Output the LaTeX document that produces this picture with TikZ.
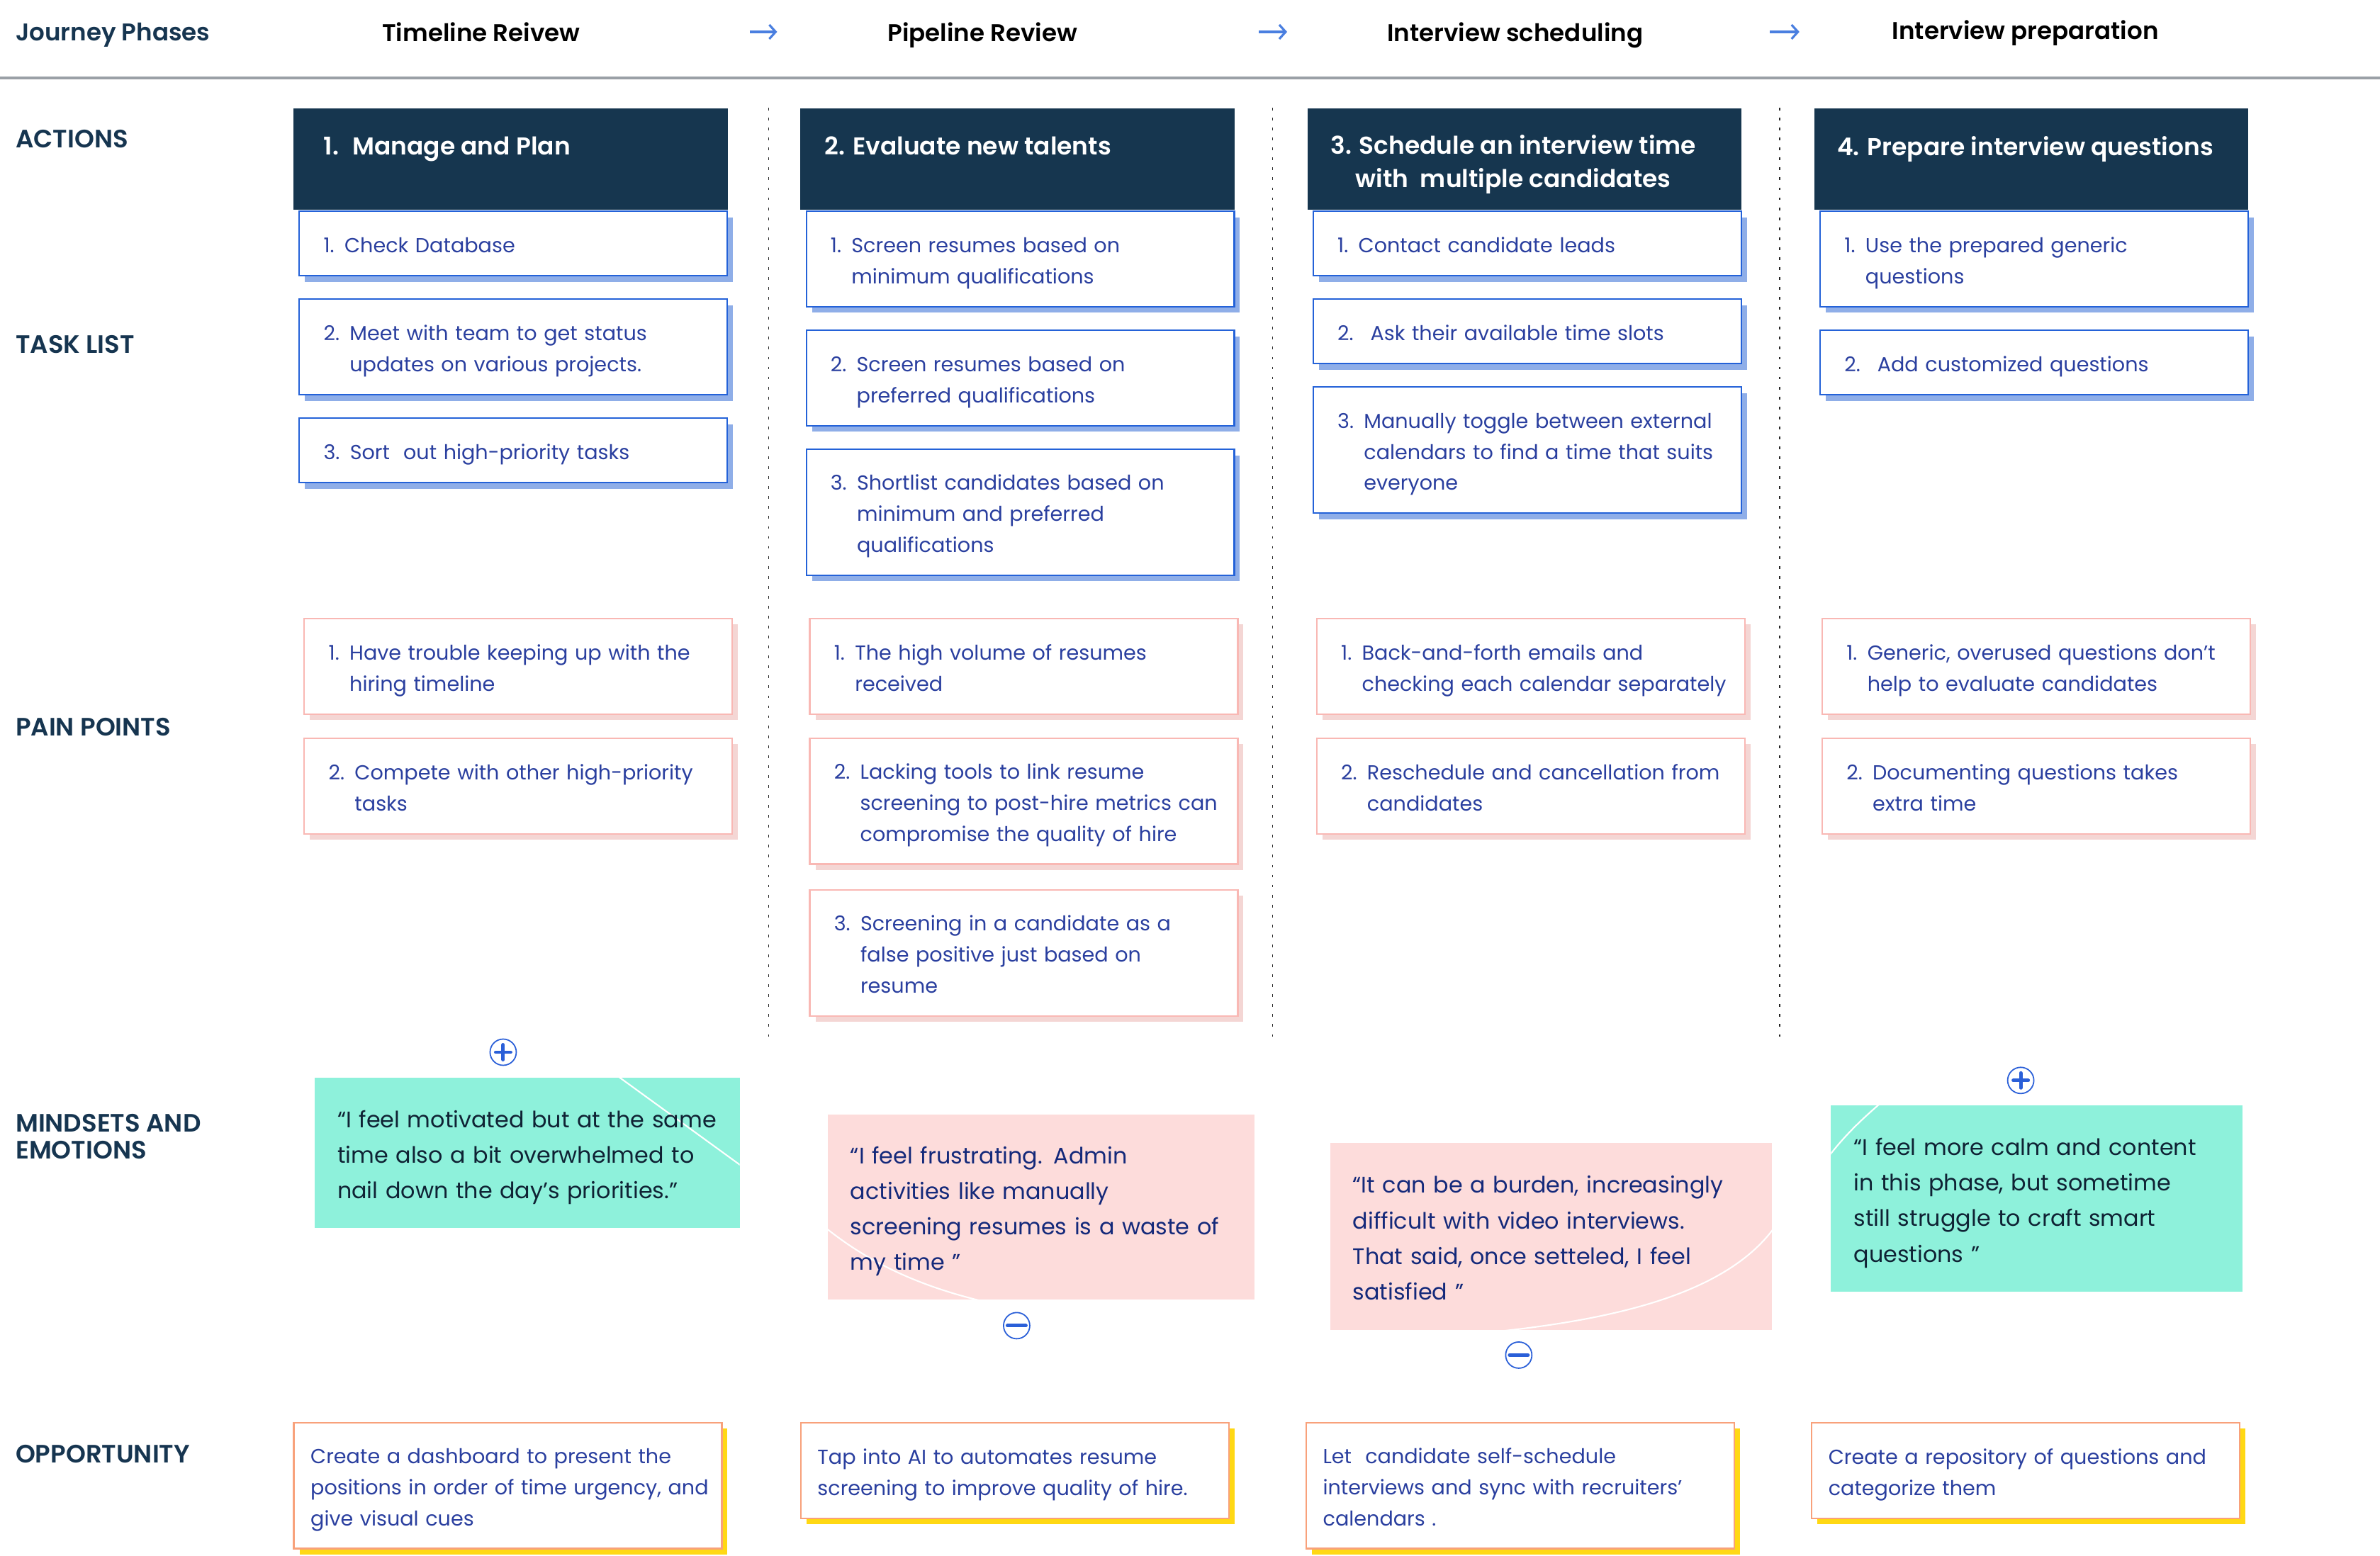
\documentclass[tikz,border=0pt]{standalone}
\usepackage{fontspec}
\setmainfont{Poppins}[BoldFont={Poppins SemiBold}]
\usetikzlibrary{arrows.meta, positioning, shadows, calc}

\definecolor{navy}{HTML}{16364F}
\definecolor{labelnavy}{HTML}{163550}
\definecolor{taskedge}{HTML}{2462D8}
\definecolor{taskshade}{HTML}{8FAEE8}
\definecolor{taskink}{HTML}{2A3F9F}
\definecolor{painedge}{HTML}{F9B8B4}
\definecolor{painshade}{HTML}{F4D6D4}
\definecolor{oppedge}{HTML}{F8A17B}
\definecolor{oppshade}{HTML}{FFD814}
\definecolor{mint}{HTML}{8EF1DB}
\definecolor{blush}{HTML}{FDDCDB}
\definecolor{quoteink}{HTML}{0F2234}
\definecolor{quoteblue}{HTML}{14297A}
\definecolor{rulegray}{HTML}{9AA0A6}
\definecolor{arrowblue}{HTML}{4A7FE0}
\definecolor{toggleblue}{HTML}{2A5FD8}

\newcommand{\cardfont}{\fontsize{8.15}{12.5}\selectfont}
\newcommand{\quotefont}{\fontsize{9.05}{14.3}\selectfont}
% first row a little taller, so the lines sit where the reference has them
\newcommand{\boxlines}[1]{\begin{tabular}{@{}l@{}}\rule{0pt}{11.1pt}#1\end{tabular}}
\newcommand{\quotelines}[1]{\begin{tabular}{@{}l@{}}\rule{0pt}{12.4pt}#1\end{tabular}}

\tikzset{
    phase/.style={
        font=\bfseries\fontsize{9.7}{11}\selectfont,
        text=black, inner sep=0pt, text depth=0pt
    },
    rowlabel/.style={
        font=\bfseries\fontsize{10.1}{10.9}\selectfont,
        text=labelnavy, anchor=west, align=left, inner sep=0pt
    },
    phasearrow/.style={draw=arrowblue, line width=0.9pt, -{Straight Barb[length=0.9mm, width=2mm]}},
    headrule/.style={draw=rulegray, line width=1.15pt},
    lane/.style={draw=black!85, line width=0.55pt, dash pattern=on 1.1pt off 2.9pt},
    headbox/.style={
        rectangle, fill=navy, anchor=north west,
        minimum width=61.25mm, minimum height=14.35mm, inner sep=0pt
    },
    headtext/.style={
        font=\bfseries\fontsize{9.8}{13.3}\selectfont,
        text=white, inner sep=0pt, text depth=0pt
    },
    card/.style={
        rectangle, line width=0.6pt, fill=white,
        font=\cardfont, text=taskink,
        minimum width=60.39mm, inner ysep=0pt, align=left
    },
    taskbox/.style={
        card, draw=taskedge, text width=53.53mm, inner xsep=3.43mm,
        drop shadow={shadow xshift=0.8mm, shadow yshift=-0.85mm, fill=taskshade, opacity=1}
    },
    painbox/.style={
        card, draw=painedge, text width=53.53mm, inner xsep=3.43mm,
        drop shadow={shadow xshift=0.8mm, shadow yshift=-0.85mm, fill=painshade, opacity=1}
    },
    oppbox/.style={
        card, draw=oppedge, line width=0.7pt, text width=55.67mm, inner xsep=2.36mm,
        drop shadow={shadow xshift=0.8mm, shadow yshift=-0.85mm, fill=oppshade, opacity=1}
    },
    oneline/.style={minimum height=9.10mm},
    twoline/.style={minimum height=13.49mm},
    threeline/.style={minimum height=17.78mm},
    mindset/.style={
        rectangle, anchor=north west, inner xsep=3.21mm, inner ysep=0pt,
        align=left, font=\quotefont
    },
    calm/.style={mindset, fill=mint, text=quoteink},
    tense/.style={mindset, fill=blush, text=quoteblue},
    swoosh/.style={draw=white, line width=0.6pt},
    togglecirc/.style={
        circle, draw=toggleblue, line width=0.5pt, fill=white,
        minimum size=3.7mm, inner sep=0pt
    },
    togglemark/.style={draw=toggleblue, line width=1.4pt, line cap=round},
    expandmark/.style={togglecirc, path picture={
        \draw[togglemark] ([xshift=-1.05mm]path picture bounding box.center) -- ([xshift=1.05mm]path picture bounding box.center);
        \draw[togglemark] ([yshift=-1.05mm]path picture bounding box.center) -- ([yshift=1.05mm]path picture bounding box.center);
    }},
    collapsemark/.style={togglecirc, path picture={
        \draw[togglemark] ([xshift=-1.3mm]path picture bounding box.center) -- ([xshift=1.3mm]path picture bounding box.center);
    }}
}

\begin{document}
\begin{tikzpicture}[x=0.21416mm, y=-0.21416mm, node distance=3.1mm]

\useasboundingbox (0,0) rectangle (1568,1025.4);
\fill[white] (0,0) rectangle (1568,1025.4);

% Phase header
\node[phase, anchor=west, text=labelnavy] (jp) at (10,21) {Journey Phases};
\node[phase] (ph1) at (317,21) {Timeline Reivew};
\node[phase] (ph2) at (647.3,21) {Pipeline Review};
\node[phase] (ph3) at (998.2,21) {Interview scheduling};
\node[phase] (ph4) at (1334.4,19.5) {Interview preparation};

\coordinate (ar1a) at (494,21);
\coordinate (ar1b) at (512,21);
\coordinate (ar2a) at (829.5,21);
\coordinate (ar2b) at (848,21);
\coordinate (ar3a) at (1166,21);
\coordinate (ar3b) at (1185.5,21);
\draw[phasearrow] (ar1a) -- (ar1b);
\draw[phasearrow] (ar2a) -- (ar2b);
\draw[phasearrow] (ar3a) -- (ar3b);

\coordinate (rulel) at (0,51.3);
\coordinate (ruler) at (1568,51.3);
\draw[headrule] (rulel) -- (ruler);

% Row labels
\node[rowlabel] (lact) at (10,91.7) {ACTIONS};
\node[rowlabel] (ltask) at (10,227) {TASK LIST};
\node[rowlabel] (lpain) at (10,479) {PAIN POINTS};
\node[rowlabel] (lmind) at (10,749) {MINDSETS AND\\EMOTIONS};
\node[rowlabel] (lopp) at (10,958) {OPPORTUNITY};

% Lanes between phases
\coordinate (lane1a) at (506.4,71);
\coordinate (lane1b) at (506.4,685);
\coordinate (lane2a) at (838.4,71);
\coordinate (lane2b) at (838.4,685);
\coordinate (lane3a) at (1172.7,71);
\coordinate (lane3b) at (1172.7,685);
\draw[lane] (lane1a) -- (lane1b);
\draw[lane] (lane2a) -- (lane2b);
\draw[lane] (lane3a) -- (lane3b);

% Column 1: Timeline Reivew
\node[headbox] (h1) at (193,71) {};
\node[headtext, anchor=west] (h1t) at (213,96) {1.~ Manage and Plan};

\node[taskbox, oneline, anchor=north east] (t11) at (h1.south east) {\boxlines{1. Check Database}};
\node[taskbox, twoline, below=of t11] (t12) {\boxlines{2. Meet with team to get status\\\phantom{2. }updates on various projects.}};
\node[taskbox, oneline, below=of t12] (t13) {\boxlines{3. Sort~ out high-priority tasks}};

\node[painbox, twoline, anchor=north west] (p11) at (200,407) {\boxlines{1. Have trouble keeping up with the\\\phantom{1. }hiring timeline}};
\node[painbox, twoline, below=3.2mm of p11] (p12) {\boxlines{2. Compete with other high-priority\\\phantom{2. }tasks}};

\node[expandmark] (ex1) at (331.5,693.4) {};
\node[calm, minimum width=59.96mm, minimum height=21.2mm, text width=53.54mm,
    path picture={\draw[swoosh] ($(path picture bounding box.north east)+(-87,-6)$) -- ($(path picture bounding box.north east)+(8,63)$);}]
    (m1) at (207,710) {\quotelines{“I feel motivated but at the same\\time also a bit overwhelmed to\\nail down the day’s priorities.”}};

\node[oppbox, threeline, anchor=north west] (op1) at (193,937) {\boxlines{Create a dashboard to present the\\positions in order of time urgency, and\\give visual cues}};

% Column 2: Pipeline Review
\node[headbox] (h2) at (527,71) {};
\node[headtext, anchor=west] (h2t) at (543,96) {2. Evaluate new talents};

\node[taskbox, twoline, anchor=north east] (t21) at (h2.south east) {\boxlines{1. Screen resumes based on\\\phantom{1. }minimum qualifications}};
\node[taskbox, twoline, below=of t21] (t22) {\boxlines{2. Screen resumes based on\\\phantom{2. }preferred qualifications}};
\node[taskbox, threeline, below=of t22] (t23) {\boxlines{3. Shortlist candidates based on\\\phantom{3. }minimum and preferred\\\phantom{3. }qualifications}};

\node[painbox, twoline, anchor=north west] (p21) at (533,407) {\boxlines{1. The high volume of resumes\\\phantom{1. }received}};
\node[painbox, threeline, below=3.2mm of p21] (p22) {\boxlines{2. Lacking tools to link resume\\\phantom{2. }screening to post-hire metrics can\\\phantom{2. }compromise the quality of hire}};
\node[painbox, threeline, below=3.42mm of p22] (p23) {\boxlines{3. Screening in a candidate as a\\\phantom{3. }false positive just based on\\\phantom{3. }resume}};

\node[tense, minimum width=60.18mm, minimum height=26.13mm, text width=53.76mm,
    path picture={\draw[swoosh] ($(path picture bounding box.south west)+(-6,-51)$) .. controls ($(path picture bounding box.south west)+(25,-25)$) and ($(path picture bounding box.south west)+(60,-8)$) .. ($(path picture bounding box.south west)+(110,3)$);}]
    (m2) at (545,734) {\quotelines{“I feel frustrating. Admin\\activities like manually\\screening resumes is a waste of\\my time ”}};
\node[collapsemark] (co2) at (669.8,873.6) {};

\node[oppbox, twoline, anchor=north west] (op2) at (527,937) {\boxlines{Tap into AI to automates resume\\screening to improve quality of hire.}};

% Column 3: Interview scheduling
\node[headbox] (h3) at (861,71) {};
\node[headtext, align=center, text depth=] (h3t) at (997,108) {\begin{tabular}{@{}c@{}}3. Schedule an interview time\\with~ multiple candidates\end{tabular}};

\node[taskbox, oneline, anchor=north east] (t31) at (h3.south east) {\boxlines{1. Contact candidate leads}};
\node[taskbox, oneline, below=of t31] (t32) {\boxlines{2.~ Ask their available time slots}};
\node[taskbox, threeline, below=of t32] (t33) {\boxlines{3. Manually toggle between external\\\phantom{3. }calendars to find a time that suits\\\phantom{3. }everyone}};

\node[painbox, twoline, anchor=north west] (p31) at (867,407) {\boxlines{1. Back-and-forth emails and\\\phantom{1. }checking each calendar separately}};
\node[painbox, twoline, below=3.2mm of p31] (p32) {\boxlines{2. Reschedule and cancellation from\\\phantom{2. }candidates}};

\node[tense, minimum width=62.32mm, minimum height=26.34mm, text width=55.9mm,
    path picture={\draw[swoosh] ($(path picture bounding box.south east)+(-200,3)$) .. controls ($(path picture bounding box.south east)+(-110,-5)$) and ($(path picture bounding box.south east)+(-25,-22)$) .. ($(path picture bounding box.south east)+(6,-74)$);}]
    (m3) at (876,753) {\quotelines{“It can be a burden, increasingly\\difficult with video interviews.\\That said, once setteled, I feel\\satisfied ”}};
\node[collapsemark] (co3) at (1000.6,893) {};

\node[oppbox, threeline, anchor=north west] (op3) at (860,937) {\boxlines{Let~ candidate self-schedule\\interviews and sync with recruiters’\\calendars .}};

% Column 4: Interview preparation
\node[headbox] (h4) at (1195,71) {};
\node[headtext, anchor=west] (h4t) at (1210,96) {4. Prepare interview questions};

\node[taskbox, twoline, anchor=north east] (t41) at (h4.south east) {\boxlines{1. Use the prepared generic\\\phantom{1. }questions}};
\node[taskbox, oneline, below=of t41] (t42) {\boxlines{2.~ Add customized questions}};

\node[painbox, twoline, anchor=north west] (p41) at (1200,407) {\boxlines{1. Generic, overused questions don’t\\\phantom{1. }help to evaluate candidates}};
\node[painbox, twoline, below=3.2mm of p41] (p42) {\boxlines{2. Documenting questions takes\\\phantom{2. }extra time}};

\node[expandmark] (ex4) at (1331.3,712) {};
\node[calm, minimum width=58.04mm, minimum height=26.34mm, text width=51.62mm,
    path picture={\draw[swoosh] ($(path picture bounding box.north west)+(38,-6)$) .. controls ($(path picture bounding box.north west)+(24,6)$) and ($(path picture bounding box.north west)+(10,18)$) .. ($(path picture bounding box.north west)+(-4,37)$);}]
    (m4) at (1206,728) {\quotelines{“I feel more calm and content\\in this phase, but sometime\\still struggle to craft smart\\questions ”}};

\node[oppbox, twoline, anchor=north west] (op4) at (1193,937) {\boxlines{Create a repository of questions and\\categorize them}};

\end{tikzpicture}
\end{document}
